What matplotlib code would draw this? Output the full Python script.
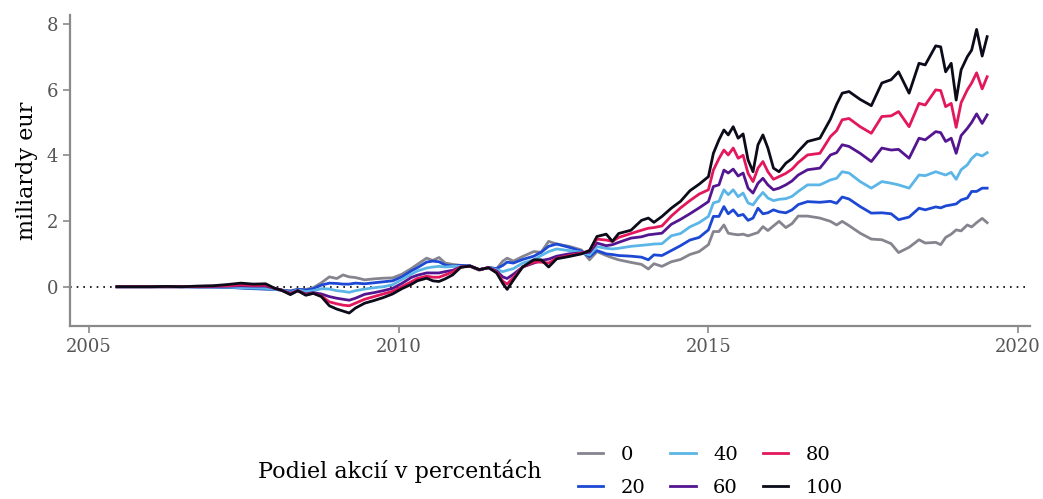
import matplotlib.pyplot as plt
import numpy as np

# decimal years of the plotted points
dates = [
    2005.45, 2005.75, 2006.0, 2006.25, 2006.5, 2006.75, 2007.0, 2007.25, 2007.45, 2007.65,
    2007.85, 2008.0, 2008.1, 2008.25, 2008.37, 2008.5, 2008.62, 2008.75, 2008.88, 2009.0,
    2009.1, 2009.2, 2009.3, 2009.45, 2009.6, 2009.75, 2009.9, 2010.05, 2010.2, 2010.3,
    2010.45, 2010.55, 2010.65, 2010.75, 2010.87, 2011.0, 2011.15, 2011.3, 2011.45, 2011.58,
    2011.68, 2011.75, 2011.85, 2012.0, 2012.18, 2012.3, 2012.42, 2012.55, 2012.75, 2012.95,
    2013.08, 2013.2, 2013.35, 2013.45, 2013.55, 2013.75, 2013.92, 2014.03, 2014.12, 2014.25,
    2014.4, 2014.55, 2014.7, 2014.85, 2015.0, 2015.08, 2015.17, 2015.25, 2015.32, 2015.4,
    2015.48, 2015.56, 2015.64, 2015.72, 2015.8, 2015.88, 2015.96, 2016.05, 2016.14, 2016.25,
    2016.35, 2016.45, 2016.6, 2016.8, 2016.97, 2017.07, 2017.16, 2017.27, 2017.45, 2017.63,
    2017.8, 2017.95, 2018.07, 2018.24, 2018.4, 2018.5, 2018.67, 2018.75, 2018.83, 2018.92,
    2019.0, 2019.08, 2019.18, 2019.25, 2019.33, 2019.42, 2019.5,
]

share_0 = [
    0.0, 0.0, 0.0, 0.0, 0.0, -0.01, -0.01, -0.02, -0.03, -0.05,
    -0.07, -0.08, -0.1, -0.12, -0.08, -0.08, -0.03, 0.12, 0.3, 0.25,
    0.36, 0.3, 0.28, 0.21, 0.24, 0.26, 0.27, 0.38, 0.55, 0.68,
    0.87, 0.8, 0.89, 0.72, 0.68, 0.65, 0.62, 0.5, 0.59, 0.55,
    0.78, 0.87, 0.78, 0.92, 1.07, 1.05, 1.38, 1.3, 1.23, 1.12,
    0.82, 1.07, 0.95, 0.88, 0.82, 0.74, 0.68, 0.54, 0.7, 0.62,
    0.76, 0.83, 0.98, 1.07, 1.28, 1.68, 1.68, 1.88, 1.63, 1.6,
    1.58, 1.6, 1.55, 1.6, 1.65, 1.83, 1.71, 1.85, 1.99, 1.8,
    1.92, 2.15, 2.15, 2.09, 1.99, 1.88, 1.99, 1.86, 1.63, 1.45,
    1.43, 1.31, 1.04, 1.2, 1.43, 1.33, 1.35, 1.28, 1.5, 1.6,
    1.73, 1.7, 1.88, 1.82, 1.95, 2.08, 1.95,
]

share_20 = [
    0.0, 0.0, 0.0, 0.0, 0.0, -0.01, -0.01, -0.02, -0.04, -0.06,
    -0.07, -0.08, -0.1, -0.14, -0.08, -0.1, -0.06, 0.05, 0.11, 0.1,
    0.08, 0.08, 0.11, 0.09, 0.12, 0.15, 0.18, 0.3, 0.48, 0.58,
    0.75, 0.78, 0.76, 0.66, 0.63, 0.65, 0.64, 0.52, 0.58, 0.55,
    0.65, 0.75, 0.72, 0.83, 0.93, 1.05, 1.23, 1.3, 1.2, 1.08,
    0.92, 1.1, 1.0, 0.98, 0.95, 0.93, 0.9, 0.82, 0.97, 0.95,
    1.1, 1.25, 1.42, 1.5, 1.73, 2.14, 2.14, 2.44, 2.22, 2.34,
    2.16, 2.2, 2.02, 2.09, 2.39, 2.22, 2.25, 2.34, 2.28, 2.25,
    2.34, 2.5, 2.59, 2.57, 2.6, 2.54, 2.73, 2.67, 2.44, 2.24,
    2.25, 2.22, 2.04, 2.12, 2.39, 2.34, 2.43, 2.4, 2.46, 2.49,
    2.52, 2.64, 2.7, 2.9, 2.9, 3.0, 3.0,
]

share_40 = [
    0.0, 0.0, 0.0, 0.0, 0.0, 0.0, 0.0, -0.01, -0.03, -0.04,
    -0.05, -0.08, -0.1, -0.17, -0.1, -0.15, -0.12, -0.06, -0.07, -0.12,
    -0.14, -0.17, -0.12, -0.07, -0.03, 0.0, 0.06, 0.22, 0.38, 0.48,
    0.57, 0.6, 0.62, 0.6, 0.62, 0.62, 0.63, 0.52, 0.58, 0.52,
    0.46, 0.5, 0.55, 0.72, 0.82, 0.95, 1.07, 1.15, 1.1, 1.05,
    0.97, 1.22, 1.17, 1.15, 1.17, 1.23, 1.26, 1.28, 1.3, 1.31,
    1.55, 1.62, 1.82, 1.95, 2.14, 2.55, 2.6, 2.95, 2.8, 2.95,
    2.74, 2.85, 2.55, 2.49, 2.7, 2.87, 2.7, 2.62, 2.66, 2.68,
    2.75, 2.9, 3.1, 3.1, 3.25, 3.3, 3.5, 3.46, 3.2, 3.0,
    3.2, 3.15, 3.1, 3.0, 3.4, 3.38, 3.5, 3.45, 3.4, 3.48,
    3.27, 3.56, 3.71, 3.9, 4.04, 3.98, 4.08,
]

share_60 = [
    0.0, 0.0, 0.0, 0.0, 0.0, 0.01, 0.01, 0.02, 0.03, 0.02,
    0.02, -0.05, -0.1, -0.2, -0.12, -0.22, -0.18, -0.22, -0.3, -0.35,
    -0.38, -0.41, -0.35, -0.23, -0.18, -0.12, -0.05, 0.1, 0.28, 0.35,
    0.42, 0.42, 0.42, 0.46, 0.5, 0.6, 0.63, 0.52, 0.58, 0.48,
    0.3, 0.25, 0.38, 0.6, 0.72, 0.8, 0.84, 0.93, 1.0, 1.03,
    1.05, 1.33, 1.25, 1.28, 1.35, 1.48, 1.52, 1.58, 1.6, 1.63,
    1.9, 2.05, 2.22, 2.4, 2.59, 3.05, 3.1, 3.55, 3.46, 3.58,
    3.37, 3.46, 3.0, 2.85, 3.15, 3.3, 3.1, 2.95, 3.0, 3.1,
    3.22, 3.4, 3.56, 3.61, 4.01, 4.08, 4.32, 4.27, 4.06, 3.81,
    4.22, 4.16, 4.18, 3.91, 4.52, 4.47, 4.72, 4.69, 4.42, 4.52,
    4.06, 4.6, 4.82, 5.0, 5.26, 4.97, 5.23,
]

share_80 = [
    0.0, 0.0, 0.0, 0.0, 0.0, 0.01, 0.02, 0.03, 0.06, 0.04,
    0.05, -0.05, -0.1, -0.22, -0.12, -0.24, -0.2, -0.28, -0.46, -0.52,
    -0.56, -0.58, -0.5, -0.38, -0.3, -0.22, -0.14, 0.0, 0.15, 0.25,
    0.32, 0.29, 0.29, 0.36, 0.45, 0.6, 0.63, 0.52, 0.58, 0.45,
    0.17, 0.08, 0.28, 0.6, 0.75, 0.75, 0.72, 0.87, 0.95, 1.02,
    1.1, 1.45, 1.42, 1.38, 1.5, 1.62, 1.72, 1.78, 1.8, 1.85,
    2.15, 2.4, 2.62, 2.82, 2.95, 3.55, 3.9, 4.16, 4.01, 4.22,
    3.91, 4.0, 3.45, 3.2, 3.61, 3.81, 3.5, 3.27, 3.35, 3.45,
    3.58, 3.78, 4.01, 4.06, 4.57, 4.75, 5.08, 5.12, 4.87, 4.67,
    5.18, 5.2, 5.33, 4.87, 5.58, 5.53, 5.99, 5.97, 5.48, 5.58,
    4.85, 5.6, 5.99, 6.2, 6.51, 6.02, 6.39,
]

share_100 = [
    0.0, 0.0, 0.0, 0.01, 0.0, 0.02, 0.03, 0.07, 0.11, 0.08,
    0.09, -0.05, -0.1, -0.24, -0.12, -0.26, -0.2, -0.3, -0.58, -0.68,
    -0.74, -0.8, -0.65, -0.5, -0.42, -0.33, -0.22, -0.06, 0.07, 0.18,
    0.26, 0.18, 0.16, 0.24, 0.36, 0.59, 0.63, 0.52, 0.58, 0.42,
    0.1, -0.08, 0.2, 0.6, 0.82, 0.82, 0.6, 0.85, 0.92, 1.0,
    1.1, 1.53, 1.6, 1.38, 1.62, 1.72, 2.02, 2.09, 1.96, 2.14,
    2.39, 2.6, 2.92, 3.12, 3.35, 4.06, 4.47, 4.77, 4.62, 4.87,
    4.52, 4.65, 3.86, 3.5, 4.32, 4.62, 4.22, 3.61, 3.5, 3.76,
    3.9, 4.12, 4.42, 4.52, 5.1, 5.55, 5.89, 5.94, 5.7, 5.51,
    6.2, 6.3, 6.54, 5.89, 6.8, 6.75, 7.33, 7.3, 6.54, 6.8,
    5.68, 6.6, 7.0, 7.2, 7.83, 7.02, 7.61,
]

labels = ["0", "20", "40", "60", "80", "100"]
series = [share_0, share_20, share_40, share_60, share_80, share_100]
colors = ["#86858f", "#1c48d4", "#5bb5e6", "#541690", "#e2175c", "#0b0b1a"]

plt.rcParams["font.family"] = ["DejaVu Serif"]

fig = plt.figure(figsize=(10.43, 4.99), dpi=100)
ax = fig.add_axes([0.067, 0.347, 0.921, 0.623])

ax.axhline(0, color="black", lw=1.2, ls=(0, (1, 3)), zorder=1)
for vals, col, lab in zip(series, colors, labels):
    ax.plot(dates, vals, color=col, lw=2.0, label=lab, zorder=2)

ax.set_xlim(2004.69, 2020.2)
ax.set_ylim(-1.19, 8.27)
ax.set_xticks([2005, 2010, 2015, 2020])
ax.set_yticks([0, 2, 4, 6, 8])
ax.set_ylabel("miliardy eur", fontsize=16, labelpad=6)

for s in ["top", "right"]:
    ax.spines[s].set_visible(False)
for s in ["left", "bottom"]:
    ax.spines[s].set_color("#8a8a8a")
    ax.spines[s].set_linewidth(1.6)
ax.tick_params(colors="#8a8a8a", width=1.2, length=5, labelsize=13, labelcolor="#555555")

fig.text(0.247, 0.055, "Podiel akcií v percentách", fontsize=16, va="center", ha="left")
fig.legend(
    loc="center left",
    bbox_to_anchor=(0.537, 0.055),
    ncol=3,
    frameon=False,
    fontsize=14,
    handlelength=1.3,
    handletextpad=0.9,
    columnspacing=1.3,
    labelspacing=0.75,
)

fig.savefig("out.png", dpi=100)
